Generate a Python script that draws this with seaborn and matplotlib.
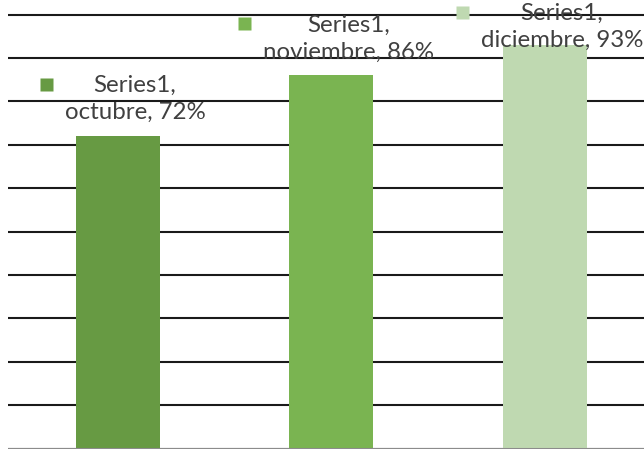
import matplotlib
matplotlib.use('Agg')
import matplotlib.pyplot as plt
import matplotlib.transforms as mtrans
import seaborn as sns
import pandas as pd

months = ['octubre', 'noviembre', 'diciembre']
values = [0.72, 0.86, 0.93]
series_name = 'Series1'
colors = ['#679A43', '#7AB451', '#BFD9B1']
y_ticks = [0.1 * k for k in range(0, 11)]

sns.set_theme(style='white')
plt.rcParams['font.family'] = ['Lato', 'DejaVu Sans']

W, H = 644, 450
fig = plt.figure(figsize=(W / 100, H / 100), dpi=100)
ax = fig.add_axes([8 / W, 1.5 / H, 1 - 8 / W, 448.5 / H])

df = pd.DataFrame({'month': months, 'value': values})
sns.barplot(data=df, x='month', y='value', hue='month', palette=colors,
            width=0.393, legend=False, ax=ax, saturation=1, linewidth=0, zorder=3)

ax.set_xlim(-0.515, 2.464)
ax.set_ylim(0, 1 + 14.7 / 433.8)
ax.set_yticks(y_ticks)
ax.yaxis.grid(True, color='#1a1a1a', lw=1.5)
ax.xaxis.grid(False)
ax.set_axisbelow(True)
ax.axhline(0, color='#8c8c8c', lw=2.2, zorder=4)
for s in ax.spines.values():
    s.set_visible(False)
ax.set_xticks([])
ax.set_yticklabels([])
ax.tick_params(length=0)
ax.set_xlabel('')
ax.set_ylabel('')

fig.canvas.draw()
texts = []
for i, (m, v) in enumerate(zip(months, values)):
    bx, by = ax.transData.transform((i, v))
    block_y = min(by + 37, H - 26.7)
    t = ax.annotate(f'{series_name},\n{m}, {round(v * 100)}%', xy=(i, v),
                    xytext=(17, block_y - by), textcoords='offset pixels',
                    ha='center', va='center', fontsize=17.3, color='#404040',
                    linespacing=1.35, annotation_clip=False, zorder=6)
    texts.append((t, i, v, bx, by, block_y))

fig.canvas.draw()
renderer = fig.canvas.get_renderer()
for t, i, v, bx, by, block_y in texts:
    ext = t.get_window_extent(renderer)
    dx = (ext.x0 - 12 - 6.5) - bx
    dy = (block_y + 15) - by
    tr = mtrans.offset_copy(ax.transData, fig=fig, x=dx, y=dy, units='dots')
    ax.plot([i], [v], marker='s', ms=13 * 0.72, color=colors[i], mec='none',
            transform=tr, clip_on=False, zorder=6)

fig.savefig('out.png', dpi=100)
